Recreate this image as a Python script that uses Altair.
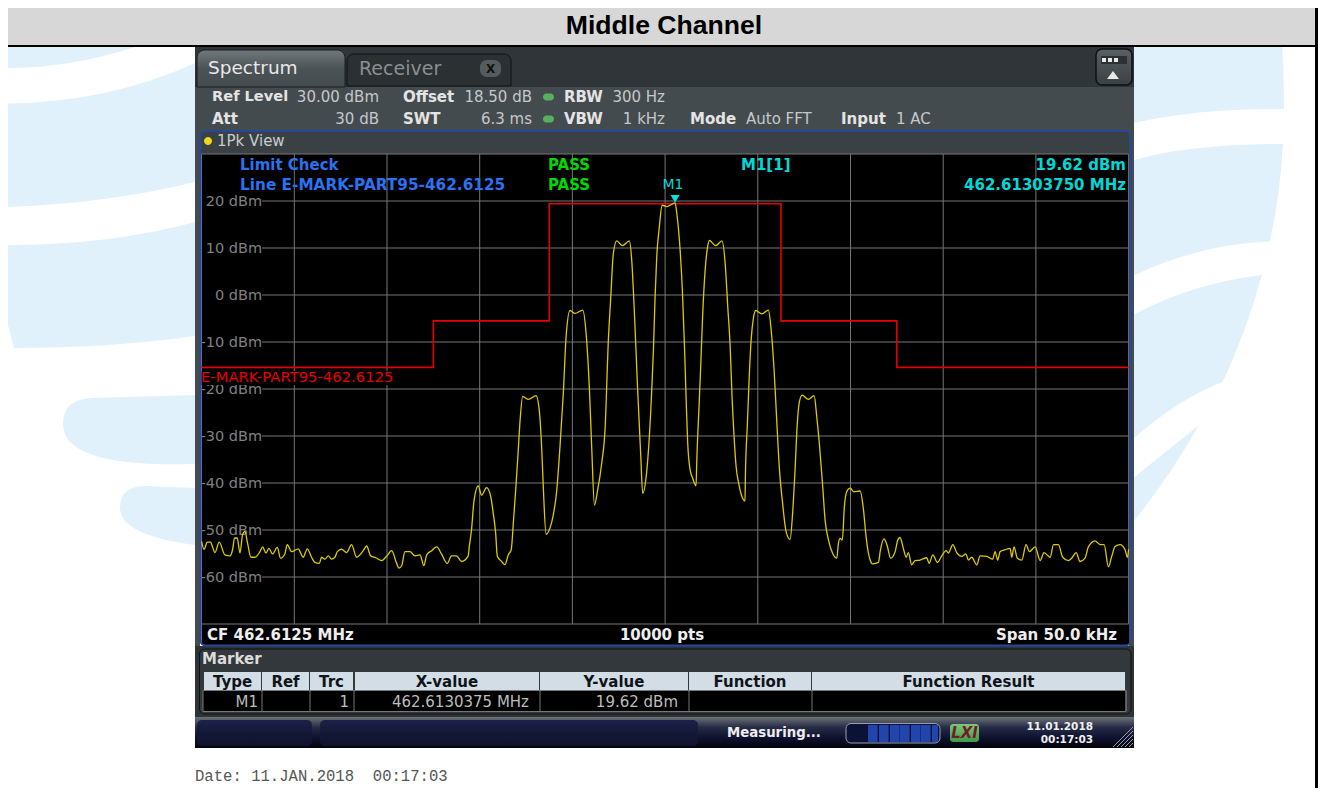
import altair as alt
import pandas as pd

# ---- data ----
trace_khz = [-25.0,-24.87,-24.69,-24.51,-24.41,-24.28,-24.05,-23.74,-23.47,-23.33,-23.22,-23.08,-22.93,-22.79,-22.66,-22.52,-22.34,-22.12,-21.85,-21.71,-21.53,-21.37,-21.17,-20.92,-20.74,-20.51,-20.38,-20.15,-19.79,-19.52,-19.30,-19.07,-18.89,-18.65,-18.53,-18.35,-18.17,-17.99,-17.81,-17.68,-17.45,-17.18,-16.91,-16.64,-16.28,-16.10,-15.88,-15.60,-15.29,-15.02,-14.75,-14.48,-14.36,-14.21,-14.03,-13.76,-13.49,-13.22,-13.01,-12.86,-12.59,-12.32,-12.06,-11.75,-11.52,-11.25,-10.98,-10.62,-10.56,-10.44,-10.31,-10.08,-9.90,-9.63,-9.41,-9.27,-9.14,-9.05,-8.82,-8.64,-8.46,-8.30,-8.18,-8.04,-7.91,-7.82,-7.68,-7.37,-6.96,-6.78,-6.66,-6.57,-6.42,-6.21,-6.03,-5.85,-5.67,-5.49,-5.34,-5.13,-4.86,-4.44,-4.26,-4.08,-3.96,-3.81,-3.65,-3.42,-3.24,-3.06,-2.93,-2.79,-2.61,-2.30,-1.93,-1.80,-1.67,-1.48,-1.31,-1.21,-1.00,-0.72,-0.63,-0.54,-0.45,-0.31,-0.16,0.09,0.54,0.63,0.81,0.93,1.04,1.13,1.22,1.35,1.49,1.67,1.71,1.83,1.92,2.03,2.16,2.28,2.39,2.73,3.07,3.24,3.38,3.51,3.61,3.72,3.83,3.97,4.12,4.31,4.33,4.44,4.53,4.64,4.76,4.89,5.21,5.57,5.72,5.88,6.02,6.17,6.33,6.53,6.74,6.89,7.01,7.12,7.23,7.39,7.73,8.04,8.18,8.32,8.49,8.63,8.81,9.04,9.26,9.35,9.44,9.56,9.67,9.80,9.98,10.19,10.52,10.70,10.84,10.97,11.06,11.18,11.51,11.60,11.81,11.96,12.17,12.41,12.53,12.67,12.85,13.00,13.12,13.30,13.48,13.75,14.11,14.24,14.44,14.69,14.92,15.16,15.28,15.52,15.73,16.00,16.22,16.36,16.54,16.81,16.99,17.35,17.67,17.80,17.94,18.07,18.34,18.61,18.70,18.82,19.00,19.24,19.47,19.65,19.96,20.23,20.44,20.77,20.95,21.21,21.45,21.75,21.93,22.17,22.38,22.65,22.83,23.19,23.46,23.68,23.91,24.09,24.27,24.54,24.81,24.94,25.0]
trace_dbm = [-52.4,-54.1,-52.6,-52.6,-53.6,-54.8,-52.6,-55.3,-55.5,-54.2,-51.7,-51.7,-54.9,-51.0,-50.3,-52.8,-55.8,-55.8,-54.6,-53.6,-54.9,-53.9,-55.1,-53.7,-56.0,-55.1,-53.1,-54.6,-54.0,-55.8,-54.0,-55.8,-56.9,-57.1,-55.8,-56.2,-55.5,-56.2,-55.8,-54.6,-54.1,-54.8,-53.1,-55.8,-54.4,-53.4,-55.5,-55.9,-56.5,-55.6,-54.4,-57.1,-58.1,-57.6,-54.6,-54.6,-55.5,-55.3,-57.6,-55.3,-54.4,-53.6,-55.1,-57.1,-55.5,-55.5,-56.7,-55.5,-53.5,-49.9,-43.9,-40.6,-42.6,-41.0,-42.8,-46.4,-50.6,-55.6,-56.7,-57.4,-55.3,-54.2,-48.2,-40.4,-32.3,-26.6,-21.6,-22.2,-21.4,-24.8,-32.3,-40.8,-50.9,-49.6,-46.8,-41.8,-32.3,-20.9,-8.9,-3.3,-3.9,-3.2,-8.2,-20.2,-32.3,-44.7,-41.8,-35.8,-28.7,-9.6,-0.4,8.9,11.5,10.5,11.5,7.4,-2.5,-20.2,-34.4,-42.2,-37.9,-20.2,-11.7,-0.4,8.2,14.5,19.1,18.8,19.62,17.4,9.6,1.1,-10.3,-21.6,-31.6,-37.2,-39.0,-40.6,-35.1,-23.8,-15.2,-3.9,5.3,9.9,11.6,10.5,11.5,6.7,-2.5,-11.0,-21.6,-30.1,-36.5,-40.1,-42.6,-43.8,-38.7,-27.3,-18.1,-9.6,-5.0,-3.3,-4.0,-3.2,-7.4,-16.0,-26.6,-37.2,-44.0,-50.4,-52.0,-45.7,-37.2,-28.0,-23.0,-21.3,-22.2,-21.4,-25.9,-31.6,-40.1,-47.9,-52.1,-55.0,-56.0,-52.8,-51.8,-52.1,-45.0,-41.8,-41.1,-41.9,-41.7,-45.7,-51.4,-55.0,-56.4,-57.2,-56.9,-54.6,-51.9,-53.1,-56.0,-54.6,-52.4,-51.6,-53.9,-55.8,-54.8,-57.4,-56.5,-56.4,-55.9,-57.1,-55.3,-56.9,-55.5,-54.4,-54.9,-53.1,-54.8,-55.6,-55.1,-56.4,-55.8,-57.4,-55.5,-55.6,-56.2,-54.6,-56.4,-54.6,-54.2,-53.9,-55.8,-53.6,-56.0,-56.4,-53.1,-54.6,-53.6,-56.5,-54.8,-55.8,-53.1,-53.1,-55.8,-56.5,-56.0,-54.8,-56.7,-56.0,-53.6,-52.3,-53.1,-53.1,-57.8,-55.6,-53.5,-53.1,-54.2,-55.8,-54.1]
limit_khz = [-25.0,-12.5,-12.5,-6.25,-6.25,6.25,6.25,12.5,12.5,25.0]
limit_dbm = [-15.4,-15.4,-5.5,-5.5,19.4,19.4,-5.5,-5.5,-15.4,-15.4]
level_ticks = [20,10,0,-10,-20,-30,-40,-50,-60]
freq_grid = [-20,-15,-10,-5,0,5,10,15,20]
marker_khz = [0.5375]
marker_dbm = [19.62]
table_headers = ["Type","Ref","Trc","X-value","Y-value","Function","Function Result"]

# ---- geometry helpers: page pixel -> plot group pixel ----
OX, OY = 201.6, 154.0
PW, PH = 927, 470
one = pd.DataFrame({"a": [0]})
FONT = "DejaVu Sans"

def rect(x0, y0, x1, y1, color=None, **kw):
    args = dict(kw)
    if color is not None:
        args["fill"] = color
    return alt.Chart(one).mark_rect(**args).encode(
        x=alt.value(x0 - OX), x2=alt.value(x1 - OX),
        y=alt.value(y0 - OY), y2=alt.value(y1 - OY))

def txt(s, x, y, size=15, color="#ffffff", weight="normal", align="left", font=FONT, **kw):
    return alt.Chart(one).mark_text(text=s, fontSize=size, color=color, fontWeight=weight,
                                    align=align, baseline="middle", font=font, **kw).encode(
        x=alt.value(x - OX), y=alt.value(y - OY))

def shape(path_pts, color, **kw):
    """SVG path given in page pixels, moved into plot coordinates."""
    out = []
    for tok in path_pts:
        if isinstance(tok, str):
            out.append(tok)
        else:
            out.append(f"{tok[0]-OX:.1f} {tok[1]-OY:.1f}")
    return alt.Chart(one).mark_point(shape=" ".join(out), size=4, filled=True, fill=color,
                                     opacity=1, strokeWidth=0, **kw).encode(
        x=alt.value(0), y=alt.value(0))

def vgrad(*stops):
    n = len(stops) - 1
    return alt.LinearGradient(gradient="linear", x1=0, x2=0, y1=0, y2=1,
                              stops=[alt.GradientStop(offset=i / n, color=c) for i, c in enumerate(stops)])

WM = "#e1f1fc"
layers = []
# page watermark
layers += [
    shape(["M",(8,47),"L",(135,47),"Q",(70,68),(8,68),"Z"], WM),
    shape(["M",(8,103.6),"Q",(110,102),(195,63),"L",(195,182),"Q",(110,203),(8,207),"Z"], WM),
    shape(["M",(8,245),"Q",(110,245),(195,222),"L",(195,336),"Q",(110,348),(14,348),"L",(8,325),"Z"], WM),
    shape(["M",(92,398),"L",(195,395),"L",(195,464),"Q",(63,468),(63,424),"Q",(63,399),(92,398),"Z"], WM),
    shape(["M",(146,486),"L",(195,488),"L",(195,545),"Q",(120,535),(120,508),"Q",(120,486),(146,486),"Z"], WM),
    shape(["M",(1134,47),"L",(1282,47),"Q",(1284,75),(1284,109),"Q",(1200,108),(1134,123),"Z"], WM),
    shape(["M",(1134,160),"Q",(1190,144),(1283,144),"Q",(1280,195),(1270,241.5),"Q",(1200,244),(1134,275.5),"Z"], WM),
    shape(["M",(1134,314.6),"Q",(1190,284),(1262,275),"Q",(1245,335),(1222.7,382),"Q",(1180,398),(1134,438),"Z"], WM),
    shape(["M",(1134,477.6),"L",(1199,425),"Q",(1170,476),(1134,521),"Z"], WM),
]
# title bar
layers += [
    rect(8,8,1318,45,"#d7d7d7"),
    rect(8,45,1318,47,"#000000"),
    rect(1315,0,1318,798,"#000000"),
    txt("Middle Channel",664,26,size=26.6,color="#000000",weight="bold",align="center",font="Liberation Sans"),
]
# instrument frame (never over the plot area)
layers += [
    rect(195,47,1134,87,"#2f3538"),
    rect(195,87,1134,132,"#444b4f"),
    rect(195,132,200,647,"#444b4f"),
    rect(1129,132,1134,647,"#444b4f"),
    rect(200,132,1129,154,"#3a4145"),
    rect(201.6,624,1129,645,"#000000"),
    rect(195,646,1134,717,"#2e3436"),
    rect(199.5,649,1131,714,"#32383b",stroke="#111111",strokeWidth=1,cornerRadius=5),
    rect(200.5,131,1130.5,645.5,None,fill="#000000",fillOpacity=0,stroke="#26479c",strokeWidth=2,cornerRadius=5),
    rect(197,50,345,87,vgrad("#72797c","#4b5356","#454c50"),cornerRadiusTopLeft=8,cornerRadiusTopRight=8,stroke="#1a1d1f",strokeWidth=1),
    rect(347,54,511,86,"#2b3033",cornerRadiusTopLeft=7,cornerRadiusTopRight=7,stroke="#101214",strokeWidth=1),
    rect(480,60,501,77,"#555c5f",cornerRadius=7),
    txt("X",490.5,69,size=12,color="#101010",weight="bold",align="center"),
    txt("Spectrum",208,68,size=18.5,color="#e8e8e8"),
    txt("Receiver",359,69,size=19,color="#8a8f92"),
    rect(1096,49,1132,85,vgrad("#596063","#3a4145"),stroke="#0e1012",strokeWidth=1.5,cornerRadius=6),
    rect(1101,56,1127,64,"#2a3033"),
    rect(1102,58,1106,62,"#e8e8e8"), rect(1108,58,1112,62,"#e8e8e8"), rect(1114,58,1118,62,"#e8e8e8"),
    shape(["M",(1113,71),"L",(1119,79),"L",(1107,79),"Z"],"#e8e8e8"),
]
# settings block
G = "#c4c8ca"
W = "#e4e4e4"
layers += [
    txt("Ref Level",212,97,size=14.6,weight="bold",color=W),
    txt("30.00 dBm",379,97,color=G,align="right"),
    txt("Offset",403,97,weight="bold",color=W),
    txt("18.50 dB",532,97,color=G,align="right"),
    txt("RBW",564,97,weight="bold",color=W),
    txt("300 Hz",665,97,color=G,align="right"),
    txt("Att",212,119,weight="bold",color=W),
    txt("30 dB",379,119,color=G,align="right"),
    txt("SWT",403,119,weight="bold",color=W),
    txt("6.3 ms",532,119,color=G,align="right"),
    txt("VBW",564,119,weight="bold",color=W),
    txt("1 kHz",665,119,color=G,align="right"),
    txt("Mode",690,119,weight="bold",color=W),
    txt("Auto FFT",746,119,color=G),
    txt("Input",841,119,weight="bold",color=W),
    txt("1 AC",896,119,color=G),
    rect(543,93.5,554,100.5,"#55b060",cornerRadius=4),
    rect(543,115.5,554,122.5,"#55b060",cornerRadius=4),
    rect(204,137,212,145,"#f0d818",cornerRadius=4),
    txt("1Pk View",217,141,color="#c8cccc"),
]

# ---- scales and data marks ----
xs = alt.Scale(domain=[-25, 25], nice=False, zero=False)
ys = alt.Scale(domain=[-70, 30], nice=False, zero=False)
GRID = "#767676"
vgrid = pd.DataFrame({"khz": freq_grid, "lo": [-70]*len(freq_grid), "hi": [30]*len(freq_grid)})
hgrid = pd.DataFrame({"dbm": level_ticks, "from": [-21.74]*len(level_ticks), "to": [25]*len(level_ticks)})
edges = pd.DataFrame({"dbm": [30, -70], "from": [-25, -25], "to": [25, 25]})
trace = pd.DataFrame({"khz": trace_khz, "dbm": trace_dbm})
limit = pd.DataFrame({"khz": limit_khz, "dbm": limit_dbm, "i": list(range(len(limit_khz)))})
marker = pd.DataFrame({"khz": marker_khz, "dbm": marker_dbm})

axis_layer = alt.Chart(vgrid).mark_rule(color=GRID, strokeWidth=1).encode(
    x=alt.X("khz:Q", scale=xs, axis=None),
    y=alt.Y("lo:Q", scale=ys, axis=alt.Axis(
        values=level_ticks, labelExpr="datum.value + ' dBm'", labelPadding=-60,
        ticks=False, domain=False, grid=False, title=None, labelColor="#808080",
        labelFontSize=14.5, labelFont=FONT, labelFontWeight="normal")),
    y2="hi:Q")
layers.append(axis_layer)
for df, col in ((hgrid, GRID), (edges, GRID)):
    layers.append(alt.Chart(df).mark_rule(color=col, strokeWidth=1).encode(
        x=alt.X("from:Q", scale=xs, axis=None), x2="to:Q",
        y=alt.Y("dbm:Q", scale=ys)))
layers += [
    rect(201.6,371,395,385,"#000000"),
    alt.Chart(limit).mark_line(color="#e60000", strokeWidth=1.6).encode(
        x=alt.X("khz:Q", scale=xs, axis=None), y=alt.Y("dbm:Q", scale=ys), order="i:Q"),
    alt.Chart(trace).mark_line(color="#dccb00", strokeWidth=1.3, interpolate="monotone").encode(
        x=alt.X("khz:Q", scale=xs, axis=None), y=alt.Y("dbm:Q", scale=ys), order="khz:Q"),
    alt.Chart(marker).mark_point(shape="triangle-down", filled=True, color="#00e5e5", size=80,
                                 opacity=1, yOffset=-4).encode(
        x=alt.X("khz:Q", scale=xs, axis=None), y=alt.Y("dbm:Q", scale=ys)),
]
BLUE, GREEN, CYAN = "#2a72f0", "#00d800", "#00d8d8"
layers += [
    txt("E-MARK-PART95-462.6125",201,378,size=14.8,color="#e80000"),
    txt("Limit Check",240,165,color=BLUE,weight="bold"),
    txt("Line E-MARK-PART95-462.6125",240,185,color=BLUE,weight="bold",size=15.3),
    txt("PASS",548,165,color=GREEN,weight="bold"),
    txt("PASS",548,185,color=GREEN,weight="bold"),
    txt("M1[1]",741,165,color=CYAN,weight="bold"),
    txt("19.62 dBm",1126,165,color=CYAN,weight="bold",align="right"),
    txt("462.61303750 MHz",1126,185,color=CYAN,weight="bold",align="right"),
    txt("M1",673,185,color=CYAN,size=14,align="center"),
    txt("CF 462.6125 MHz",207,635,color="#eeeeee",weight="bold"),
    txt("10000 pts",662,635,color="#eeeeee",weight="bold",align="center"),
    txt("Span 50.0 kHz",1117,635,color="#eeeeee",weight="bold",align="right"),
    txt("Marker",202,659,color="#dcdcdc",weight="bold"),
]
# marker table
cols = [(204,261),(262,309),(310,353),(355,539),(540,688),(689,811),(812,1125)]
layers.append(rect(203,690.5,1126,711.5,"#000000",stroke="#777777",strokeWidth=1))
for (a, b), h in zip(cols, table_headers):
    layers.append(rect(a,672,b,690,"#d3dde6"))
    layers.append(txt(h,(a+b)/2,682,color="#101418",weight="bold",align="center"))
    layers.append(rect(b+0.5,691,b+1.5,711,"#777777"))
for v, xx in [("M1",258),("1",349),("462.6130375 MHz",529),("19.62 dBm",678)]:
    layers.append(txt(v,xx,702,color="#bcbcbc",align="right"))
# status bar
layers += [
    rect(195,717,1134,748,vgrad("#6d7276","#262b46","#0e1230","#03040c")),
    rect(197,720,312,746,vgrad("#1c2148","#141838","#10132c"),cornerRadius=5),
    rect(320,720,698,746,vgrad("#1c2148","#141838","#10132c"),cornerRadius=5),
    txt("Measuring...",727,733,size=13.3,color="#eeeeee",weight="bold"),
    rect(846,723.5,940,743,"#0c1236",stroke="#9aa0a8",strokeWidth=1,cornerRadius=5),
]
for a in [868,879,890,900,911,921,932]:
    layers.append(rect(a,725,a+9.6 if a < 932 else 938,742,"#2145ad"))
layers += [
    rect(950,724,979,742,vgrad("#7cc878","#3f9a48"),cornerRadius=3),
    txt("LXI",964.5,733,size=15,color="#741a2c",weight="bold",align="center",fontStyle="italic"),
    txt("11.01.2018",1093,727,size=10.5,color="#f0f0f0",weight="bold",align="right"),
    txt("00:17:03",1093,740,size=10.5,color="#f0f0f0",weight="bold",align="right"),
]
for k in range(5):
    layers.append(alt.Chart(one).mark_rule(color="#9a9ea4", strokeWidth=1).encode(
        x=alt.value(1133-OX-(k*4+4)*1.0), x2=alt.value(1133-OX),
        y=alt.value(747-OY), y2=alt.value(747-OY-(k*4+4)*1.0)))
layers.append(txt("Date: 11.JAN.2018\u00a0\u00a000:17:03",195,776,size=15.6,color="#555555",font="Liberation Mono"))

chart = alt.layer(*layers).resolve_scale(color="independent").properties(
    width=PW, height=PH,
    autosize=alt.AutoSizeParams(type="none"),
    padding={"left": OX-8, "top": OY-8, "right": 1310-(OX-8)-PW, "bottom": 780-(OY-8)-PH},
    background="#ffffff",
).configure_view(fill="#000000", stroke=None)
chart.save("out.html", embed_options={"renderer": "svg", "actions": False})
